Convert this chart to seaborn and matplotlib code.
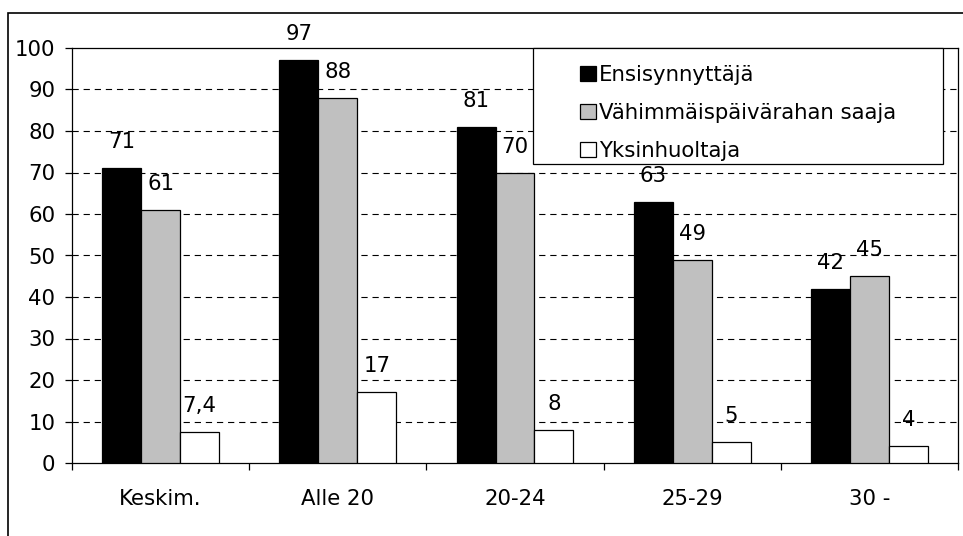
import matplotlib
matplotlib.use("Agg")
import matplotlib.pyplot as plt
from matplotlib.patches import Rectangle, Patch
import seaborn as sns
import pandas as pd

categories = ["Keskim.", "Alle 20", "20-24", "25-29", "30 -"]
series = ["Ensisynnyttäjä", "Vähimmäispäivärahan saaja", "Yksinhuoltaja"]
ensisynnyttaja = [71, 97, 81, 63, 42]
vahimmais = [61, 88, 70, 49, 45]
yksinhuoltaja = [7.4, 17, 8, 5, 4]
labels_e = ["71", "97", "81", "63", "42"]
labels_v = ["61", "88", "70", "49", "45"]
labels_y = ["7,4", "17", "8", "5", "4"]
colors = ["#000000", "#C0C0C0", "#FFFFFF"]
yticks = [0, 10, 20, 30, 40, 50, 60, 70, 80, 90, 100]

FS = 15.3

sns.set_theme(style="white")
plt.rcParams["font.family"] = ["DejaVu Sans"]
plt.rcParams["lines.scale_dashes"] = False
plt.rcParams["text.color"] = "black"

rows = []
for s, vals in zip(series, [ensisynnyttaja, vahimmais, yksinhuoltaja]):
    for c, v in zip(categories, vals):
        rows.append({"cat": c, "series": s, "value": v})
df = pd.DataFrame(rows)

W, H = 963, 536
fig = plt.figure(figsize=(W / 100, H / 100), dpi=100)
fig.patch.set_facecolor("white")
ax = fig.add_axes([72 / W, 1 - 463 / H, (958 - 72) / W, (463 - 48) / H])

sns.barplot(data=df, x="cat", y="value", hue="series", order=categories,
            hue_order=series, palette=colors, width=0.66, gap=0,
            edgecolor="black", linewidth=0.9, saturation=1, ax=ax,
            legend=False, errorbar=None, zorder=3)

for cont, labs in zip(ax.containers, [labels_e, labels_v, labels_y]):
    ax.bar_label(cont, labels=labs, padding=11.5, fontsize=FS, color="black")

ax.set_ylim(0, 100)
ax.set_xlim(-0.5, 4.5)
ax.set_yticks(yticks)
ax.set_yticklabels([str(t) for t in yticks])
ax.set_xlabel("")
ax.set_ylabel("")
for y in yticks[1:-1]:
    ax.axhline(y, color="black", lw=0.8, linestyle=(0, (4.5, 3.5)), zorder=1)

for sp in ax.spines.values():
    sp.set_visible(True)
    sp.set_color("black")
    sp.set_linewidth(0.9)

ax.tick_params(axis="y", direction="out", length=5, width=0.9, pad=7,
               labelsize=FS, colors="black", left=True)
ax.set_xticks(range(len(categories)))
ax.set_xticklabels(categories)
ax.tick_params(axis="x", which="major", length=0, pad=19, labelsize=FS,
               colors="black")
ax.set_xticks([i - 0.5 for i in range(len(categories) + 1)], minor=True)
ax.tick_params(axis="x", which="minor", direction="out", length=5,
               width=0.9, bottom=True, color="black")

# legend box
fig.patches.append(Rectangle((533 / W, 1 - 164 / H), (943 - 533) / W,
                             (164 - 48) / H, transform=fig.transFigure,
                             facecolor="white", edgecolor="black", lw=0.9,
                             zorder=5))
handles = [Patch(facecolor=c, edgecolor="black", lw=0.9) for c in colors]
leg = fig.legend(handles, series, loc="center",
                 bbox_to_anchor=(738 / W, 1 - 113 / H), frameon=False,
                 fontsize=FS, handlelength=0.75, handleheight=0.75,
                 handletextpad=0.12, labelspacing=0.85, borderpad=0,
                 labelcolor="black")
leg.set_zorder(6)

# outer frame
fig.patches.append(Rectangle((8 / W, -0.1), 1.5, (1 - 13 / H) + 0.1,
                             transform=fig.transFigure, fill=False,
                             edgecolor="black", lw=1.2, zorder=0))

fig.savefig("out.png", dpi=100)
